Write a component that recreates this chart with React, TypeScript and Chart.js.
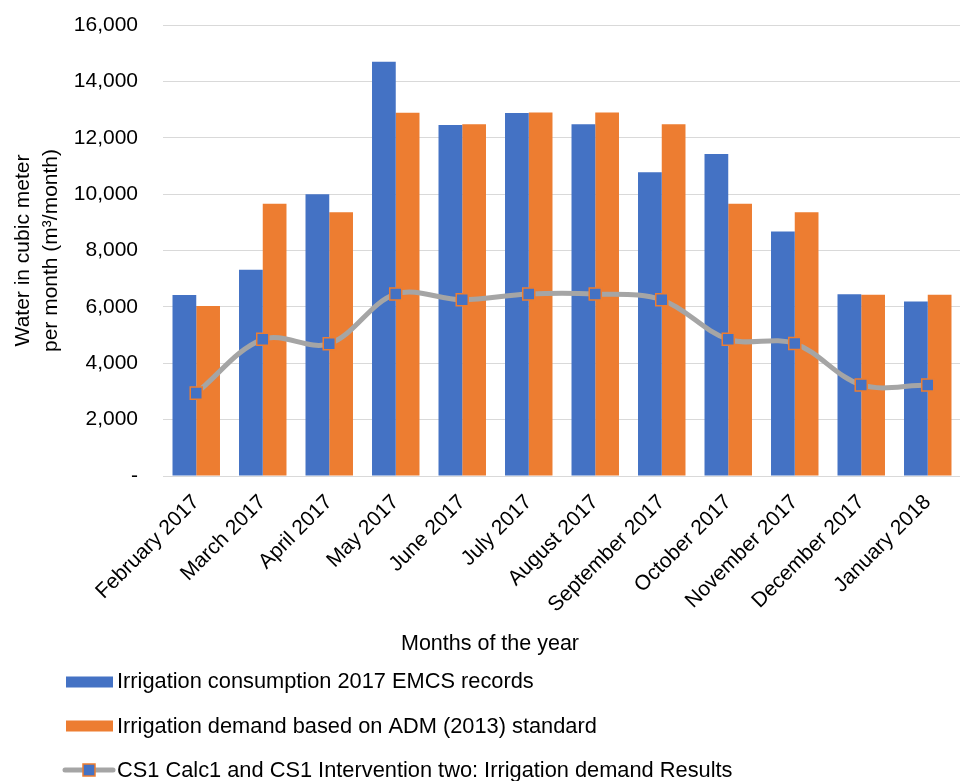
import React, { useEffect, useRef } from "react";
import { Chart, registerables } from "chart.js";

Chart.register(...registerables);

const categories = [
  "February 2017",
  "March 2017",
  "April 2017",
  "May 2017",
  "June 2017",
  "July 2017",
  "August 2017",
  "September 2017",
  "October 2017",
  "November 2017",
  "December 2017",
  "January 2018",
];

const emcsRecords = [6420, 7320, 10000, 14700, 12450, 12880, 12480, 10780, 11420, 8670, 6450, 6190];
const admStandard = [6030, 9660, 9360, 12890, 12480, 12900, 12900, 12480, 9660, 9360, 6430, 6430];
const cs1Results = [2940, 4850, 4690, 6460, 6250, 6460, 6460, 6250, 4850, 4700, 3230, 3230];

const seriesNames = [
  "Irrigation consumption 2017 EMCS records",
  "Irrigation demand based on ADM (2013) standard",
  "CS1 Calc1 and CS1 Intervention two: Irrigation demand Results",
];

const yTitle = ["Water in cubic meter", "per month (m\u00b3/month)"];
const xTitle = "Months of the year";

const BLUE = "#4472C4";
const ORANGE = "#ED7D31";
const GRAY = "#A5A5A5";
const FONT = "'Liberation Sans', Arial, sans-serif";

const legendPlugin = {
  id: "customLegend",
  afterDraw(chart: any) {
    const ctx = chart.ctx;
    ctx.save();
    ctx.fillStyle = "#000";
    ctx.font = `21.5px ${FONT}`;
    ctx.textAlign = "center";
    ctx.textBaseline = "alphabetic";
    ctx.fillText(xTitle, 490, 650);

    ctx.font = `21.8px ${FONT}`;
    ctx.textAlign = "left";
    const baselines = [688, 733, 777];
    const centers = [682, 726, 770];
    ctx.fillStyle = BLUE;
    ctx.fillRect(66, centers[0] - 5.5, 47, 11);
    ctx.fillStyle = ORANGE;
    ctx.fillRect(66, centers[1] - 5.5, 47, 11);
    ctx.strokeStyle = GRAY;
    ctx.lineWidth = 5;
    ctx.lineCap = "round";
    ctx.beginPath();
    ctx.moveTo(65, centers[2]);
    ctx.lineTo(113, centers[2]);
    ctx.stroke();
    ctx.fillStyle = BLUE;
    ctx.strokeStyle = ORANGE;
    ctx.lineWidth = 1.5;
    ctx.fillRect(83, centers[2] - 6, 12, 12);
    ctx.strokeRect(83, centers[2] - 6, 12, 12);

    ctx.fillStyle = "#000";
    seriesNames.forEach((n, i) => {
      ctx.fillText(n, 117, baselines[i]);
    });
    ctx.restore();
  },
};

export default function App() {
  const canvasRef = useRef<HTMLCanvasElement | null>(null);

  useEffect(() => {
    const canvas = canvasRef.current;
    if (!canvas) return;
    const chart = new Chart(canvas, {
      type: "bar",
      data: {
        labels: categories,
        datasets: [
          {
            type: "line",
            label: seriesNames[2],
            data: cs1Results,
            borderColor: GRAY,
            borderWidth: 5,
            tension: 0.35,
            pointStyle: "rect",
            pointRadius: 8.5,
            pointBackgroundColor: BLUE,
            pointBorderColor: ORANGE,
            pointBorderWidth: 1.5,
            order: 0,
          } as any,
          {
            type: "bar",
            label: seriesNames[0],
            data: emcsRecords,
            backgroundColor: BLUE,
            categoryPercentage: 0.714,
            barPercentage: 1,
            order: 1,
          },
          {
            type: "bar",
            label: seriesNames[1],
            data: admStandard,
            backgroundColor: ORANGE,
            categoryPercentage: 0.714,
            barPercentage: 1,
            order: 1,
          },
        ],
      },
      options: {
        responsive: false,
        animation: false,
        devicePixelRatio: 1,
        layout: { padding: { top: 25, left: 0, right: 0, bottom: 0 } },
        plugins: {
          legend: { display: false },
          tooltip: { enabled: false },
        },
        scales: {
          x: {
            grid: { display: false },
            border: { display: false },
            ticks: {
              font: { family: FONT, size: 21 },
              color: "#000",
              maxRotation: 45,
              minRotation: 45,
              autoSkip: false,
              padding: 6,
            },
            afterFit: (s: any) => {
              s.height = 305;
            },
          },
          y: {
            min: 0,
            max: 16000,
            grid: { color: "#D9D9D9", lineWidth: 1, drawTicks: false },
            border: { display: false },
            ticks: {
              stepSize: 2000,
              padding: 25,
              color: "#000",
              font: { family: FONT, size: 21 },
              callback: (v: any) => (Number(v) === 0 ? "-" : Number(v).toLocaleString("en-US")),
            },
            title: {
              display: true,
              text: yTitle,
              color: "#000",
              font: { family: FONT, size: 21, lineHeight: 1.35 },
              padding: { top: 9, bottom: 0 },
            },
            afterFit: (s: any) => {
              s.width = 163;
              s.paddingTop = 0;
              s.paddingBottom = 0;
            },
          },
        },
      },
      plugins: [legendPlugin],
    });
    return () => chart.destroy();
  }, []);

  return (
    <div
      style={{
        position: "absolute",
        left: 0,
        top: 0,
        width: 960,
        height: 781,
        overflow: "hidden",
        background: "#fff",
      }}
    >
      <canvas ref={canvasRef} width={971} height={781} style={{ width: 971, height: 781, display: "block" }} />
    </div>
  );
}
